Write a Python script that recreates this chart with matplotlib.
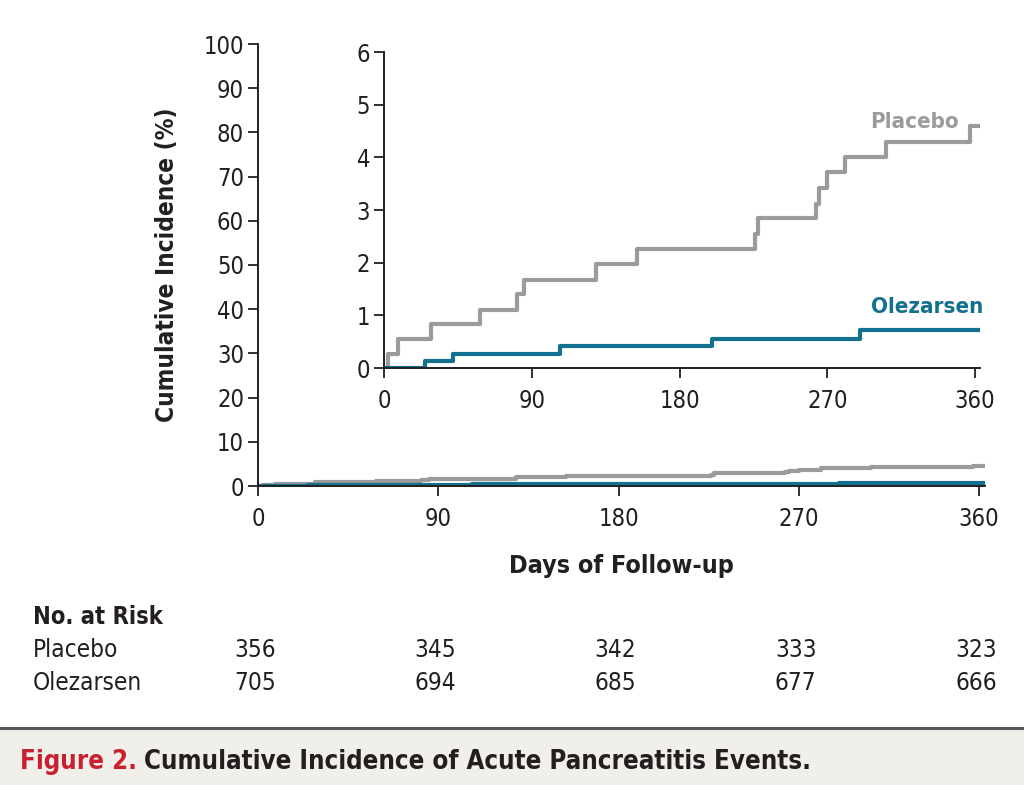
import matplotlib
matplotlib.use("Agg")
from matplotlib import pyplot as plt
from matplotlib.patches import Rectangle
from matplotlib.lines import Line2D

plt.rcParams['font.family'] = ['DejaVu Sans']
plt.rcParams['font.stretch'] = 'condensed'

# step curves: event days and cumulative incidence (%) after each step
placebo_days = [0, 2.4, 8.5, 28.6, 58.7, 81.3, 85.2, 129, 154, 226, 227.7, 263, 265, 270, 281, 306, 357, 362]
placebo_inc = [0, 0.27, 0.55, 0.84, 1.11, 1.41, 1.68, 1.97, 2.26, 2.54, 2.84, 3.12, 3.41, 3.72, 4.0, 4.29, 4.59, 4.59]
olez_days = [0, 24.8, 42, 107, 200, 290, 362]
olez_inc = [0, 0.14, 0.27, 0.41, 0.56, 0.72, 0.72]

day_ticks = [0, 90, 180, 270, 360]
risk_groups = ['Placebo', 'Olezarsen']
risk_placebo = [356, 345, 342, 333, 323]
risk_olez = [705, 694, 685, 677, 666]

grey = '#9b9b9b'
teal = '#14708f'
ink = '#231f20'

W, H = 1024, 785
fig = plt.figure(figsize=(W / 100, H / 100), dpi=100)


def px_box(left, bottom, right, top):
    return [left / W, 1 - bottom / H, (right - left) / W, (bottom - top) / H]


def style_axes(ax, fs):
    for s in ['top', 'right']:
        ax.spines[s].set_visible(False)
    for s in ['left', 'bottom']:
        ax.spines[s].set_linewidth(1.4)
        ax.spines[s].set_color(ink)
    ax.tick_params(direction='out', length=7, width=1.3, colors=ink,
                   labelsize=fs, pad=3)
    ax.patch.set_alpha(0)


# main axes
ax = fig.add_axes(px_box(258, 486, 258 + 363 * 2.003, 44))
ax.step(placebo_days, placebo_inc, where='post', color=grey, lw=3)
ax.step(olez_days, olez_inc, where='post', color=teal, lw=3)
ax.set_xlim(0, 363)
ax.set_ylim(0, 100)
ax.set_xticks(day_ticks)
ax.set_yticks(range(0, 101, 10))
style_axes(ax, 17)
ax.tick_params(axis='x', pad=8)
ax.set_xlabel('Days of Follow-up', fontsize=18, fontweight='bold', color=ink, labelpad=17)
ax.set_ylabel('Cumulative Incidence (%)', fontsize=17.5, fontweight='bold', color=ink, labelpad=18)

# inset axes
ins = fig.add_axes(px_box(384, 368, 384 + 363 * 1.642, 52))
ins.step(placebo_days, placebo_inc, where='post', color=grey, lw=3)
ins.step(olez_days, olez_inc, where='post', color=teal, lw=3)
ins.set_xlim(0, 363)
ins.set_ylim(0, 6)
ins.set_xticks(day_ticks)
ins.set_yticks(range(0, 7))
style_axes(ins, 17)
ins.tick_params(axis='x', pad=8)
ins.text(350, 4.67, 'Placebo', color=grey, fontsize=16, fontweight='bold', ha='right', va='center')
ins.text(365, 1.16, 'Olezarsen', color=teal, fontsize=16, fontweight='bold', ha='right', va='center')

# number at risk table
fig.text(33 / W, 1 - 617 / H, 'No. at Risk', fontsize=17, fontweight='bold', color=ink, va='center')
for row, (name, vals) in enumerate(zip(risk_groups, [risk_placebo, risk_olez])):
    y = 1 - (650 + 33 * row) / H
    fig.text(33 / W, y, name, fontsize=17.5, color=ink, va='center')
    for d, v in zip(day_ticks, vals):
        x = (ax.transData.transform((d, 0))[0] - 3) / W
        fig.text(x, y, str(v), fontsize=17.5, color=ink, va='center', ha='center')

# caption band
fig.patches.append(Rectangle((0, 0), 1, 1 - 728 / H, transform=fig.transFigure,
                             facecolor='#f1efea', edgecolor='none', zorder=0))
fig.lines.append(Line2D([0, 1], [1 - 728 / H] * 2, transform=fig.transFigure,
                        color='#58595b', lw=2.2))
cap_y = 1 - 762 / H
t1 = fig.text(20 / W, cap_y, 'Figure 2.', fontsize=18.5, fontweight='bold', color='#c8202f', va='center')
fig.canvas.draw()
bb = t1.get_window_extent()
fig.text((bb.x1 + 7) / W, cap_y, 'Cumulative Incidence of Acute Pancreatitis Events.',
         fontsize=18.5, fontweight='bold', color=ink, va='center')

fig.savefig('out.png', dpi=100)
